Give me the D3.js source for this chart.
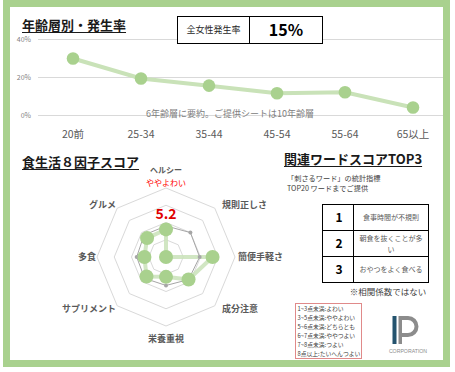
<!DOCTYPE html>
<head>
  <meta charset="utf-8">
  <script src="https://d3js.org/d3.v7.min.js"></script>
  <style>
    body { margin: 0; overflow: hidden; background: #fff; }
    svg { display: block; font-family: "Noto Sans CJK JP", "Noto Sans", sans-serif; }
  </style>
</head>
<body>
  <svg width="455" height="372"></svg>
  <script>
    // age chart
    const ageGroups = ['20前', '25-34', '35-44', '45-54', '55-64', '65以上'];
    const rates = [0.30, 0.195, 0.157, 0.117, 0.122, 0.042];
    const rateTicks = [0, 0.2, 0.4];

    // radar
    const factors = ['ヘルシー', '規則正しさ', '簡便手軽さ', '成分注意', '栄養重視', 'サプリメント', '多食', 'グルメ'];
    const scores = [5.2, 2.0, 7.4, 5.7, 4.3, 5.2, 4.5, 5.1];
    const avgScores = [5.6, 6.0, 5.9, 5.7, 5.3, 5.5, 5.4, 5.6];
    const scoreRings = [4, 6, 8, 10];

    // words table + legend
    const topRanks = ['1', '2', '3'];
    const topWords = [['食事時間が不規則'], ['朝食を抜くことが多', 'い'], ['おやつをよく食べる']];
    const legendLines = ['1~3点未満:よわい', '3~5点未満:ややよわい', '5~6点未満:どちらとも',
      '6~7点未満:ややつよい', '7~8点未満:つよい', '8点以上:たいへんつよい'];

    const green = '#a9d18e', paleGreen = '#c9e2b8', grid = '#d9d9d9';
    const svg = d3.select('svg');

    // frame
    svg.append('rect')
      .attr('x', 6.5).attr('y', 3.5).attr('width', 440).attr('height', 360)
      .attr('fill', '#fff').attr('stroke', green).attr('stroke-width', 7);

    const title = (x, y, txt) => {
      const t = svg.append('text').attr('x', x).attr('y', y)
        .attr('font-size', 13).attr('font-weight', 'bold').attr('fill', '#1a1a1a').text(txt);
      const w = t.node().getComputedTextLength();
      svg.append('line').attr('x1', x).attr('x2', x + w).attr('y1', y + 2.5).attr('y2', y + 2.5)
        .attr('stroke', '#1a1a1a').attr('stroke-width', 1.2);
    };

    // ---- age chart ----
    const x = d3.scaleBand().domain(ageGroups).range([39, 447]);
    const y = d3.scaleLinear().domain([0, 0.4]).range([115.5, 39.5]);
    const xc = d => x(d) + x.bandwidth() / 2;

    svg.append('g').selectAll('line').data(rateTicks).join('line')
      .attr('x1', 38).attr('x2', 443).attr('y1', d => y(d)).attr('y2', d => y(d))
      .attr('stroke', grid).attr('stroke-width', 1);
    svg.append('g').selectAll('text').data(rateTicks).join('text')
      .attr('x', 31).attr('y', d => y(d) + 2.5).attr('text-anchor', 'end')
      .attr('font-size', 7).attr('fill', '#7f7f7f').text(d3.format('.0%'));

    svg.append('text').attr('x', 230).attr('y', 116.5).attr('text-anchor', 'middle')
      .attr('font-size', 9).attr('fill', '#808080').text('6年齢層に要約。ご提供シートは10年齢層');

    svg.append('path').datum(rates)
      .attr('d', d3.line().x((d, i) => xc(ageGroups[i])).y(d => y(d)))
      .attr('fill', 'none').attr('stroke', paleGreen).attr('stroke-width', 4);
    svg.append('g').selectAll('circle').data(rates).join('circle')
      .attr('cx', (d, i) => xc(ageGroups[i])).attr('cy', d => y(d)).attr('r', 6.3).attr('fill', green);

    svg.append('g').selectAll('text').data(ageGroups).join('text')
      .attr('x', d => xc(d)).attr('y', 138).attr('text-anchor', 'middle')
      .attr('font-size', 10.5).attr('fill', '#595959').text(d => d);

    title(22, 30, '年齢層別・発生率');

    // rate box
    const box = svg.append('g');
    box.append('rect').attr('x', 177.5).attr('y', 16.5).attr('width', 145).attr('height', 27)
      .attr('fill', '#fff').attr('stroke', '#000').attr('stroke-width', 1);
    box.append('line').attr('x1', 249.5).attr('x2', 249.5).attr('y1', 16.5).attr('y2', 43.5)
      .attr('stroke', '#000');
    box.append('text').attr('x', 213.5).attr('y', 33).attr('text-anchor', 'middle')
      .attr('font-size', 9).attr('fill', '#262626').text('全女性発生率');
    box.append('text').attr('x', 286).attr('y', 36).attr('text-anchor', 'middle')
      .attr('font-size', 16).attr('font-weight', 'bold').attr('fill', '#000').text('15%');

    // ---- radar ----
    title(22, 167, '食生活８因子スコア');
    const cx = 166, cy = 257;
    const r = d3.scaleLinear().domain([2, 10]).range([0, 69]);
    const ang = i => i * 2 * Math.PI / factors.length;
    const px = (v, i) => cx + r(v) * Math.sin(ang(i));
    const py = (v, i) => cy - r(v) * Math.cos(ang(i));
    const radial = d3.lineRadial().angle((d, i) => ang(i)).radius(d => r(d)).curve(d3.curveLinearClosed);

    const rg = svg.append('g').attr('transform', `translate(${cx},${cy})`);
    rg.selectAll('path.ring').data(scoreRings).join('path').attr('class', 'ring')
      .attr('d', v => radial(factors.map(() => v)))
      .attr('fill', 'none').attr('stroke', grid).attr('stroke-width', 1);
    rg.append('path').attr('d', radial(avgScores))
      .attr('fill', 'none').attr('stroke', '#a6a6a6').attr('stroke-width', 1);
    svg.append('g').selectAll('circle').data(avgScores).join('circle')
      .attr('cx', px).attr('cy', py).attr('r', 2).attr('fill', '#a6a6a6');
    rg.append('path').attr('d', radial(scores))
      .attr('fill', 'none').attr('stroke', paleGreen).attr('stroke-width', 4).attr('opacity', 0.85);
    svg.append('g').selectAll('circle').data(scores).join('circle')
      .attr('cx', px).attr('cy', py).attr('r', 7).attr('fill', green);

    const labelPos = [
      [0, -87, 'middle'], [56, -52, 'start'], [72, 0, 'start'], [56, 52, 'start'],
      [0, 82, 'middle'], [-50, 52, 'end'], [-70, 0, 'end'], [-50, -52, 'end']
    ];
    svg.append('g').selectAll('text').data(factors).join('text')
      .attr('x', (d, i) => cx + labelPos[i][0]).attr('y', (d, i) => cy + labelPos[i][1] + 3)
      .attr('text-anchor', (d, i) => labelPos[i][2])
      .attr('font-size', (d, i) => i === 0 ? 8 : 9).attr('font-weight', 'bold')
      .attr('fill', '#595959').text(d => d);
    svg.append('text').attr('x', cx).attr('y', 185.5).attr('text-anchor', 'middle')
      .attr('font-size', 8).attr('fill', '#ff0000').text('ややよわい');
    svg.append('text').attr('x', cx).attr('y', py(scores[0], 0) - 10).attr('text-anchor', 'middle')
      .attr('font-size', 14).attr('font-weight', 'bold').attr('fill', '#e00000').text(d3.format('.1f')(scores[0]));

    // ---- related words ----
    title(284, 164, '関連ワードスコアTOP3');
    svg.append('text').attr('x', 287).attr('y', 180.5).attr('font-size', 7.2).attr('fill', '#404040')
      .text('「刺さるワード」の統計指標');
    svg.append('text').attr('x', 287).attr('y', 191).attr('font-size', 7.2).attr('fill', '#404040')
      .text('TOP20 ワードまでご提供');

    const rowY = d3.scaleBand().domain(topRanks).range([204.5, 282.5]);
    const tb = svg.append('g');
    tb.append('rect').attr('x', 322.5).attr('y', 204.5).attr('width', 106).attr('height', 78)
      .attr('fill', '#fff').attr('stroke', '#000');
    tb.append('line').attr('x1', 353.5).attr('x2', 353.5).attr('y1', 204.5).attr('y2', 282.5).attr('stroke', '#000');
    tb.selectAll('line.row').data(topRanks.slice(1)).join('line').attr('class', 'row')
      .attr('x1', 322.5).attr('x2', 428.5).attr('y1', d => rowY(d)).attr('y2', d => rowY(d)).attr('stroke', '#000');
    tb.selectAll('text.rank').data(topRanks).join('text').attr('class', 'rank')
      .attr('x', 339).attr('y', d => rowY(d) + rowY.bandwidth() / 2 + 4.5).attr('text-anchor', 'middle')
      .attr('font-size', 12).attr('font-weight', 'bold').attr('fill', '#000').text(d => d);
    topWords.forEach((lines, i) => {
      const mid = rowY(topRanks[i]) + rowY.bandwidth() / 2;
      lines.forEach((s, j) => {
        tb.append('text').attr('x', 391).attr('y', mid + 2.5 + (j - (lines.length - 1) / 2) * 11)
          .attr('text-anchor', 'middle').attr('font-size', 7).attr('fill', '#595959').text(s);
      });
    });
    svg.append('text').attr('x', 388).attr('y', 295).attr('text-anchor', 'middle')
      .attr('font-size', 8.5).attr('fill', '#404040').text('※相関係数ではない');

    // legend
    svg.append('rect').attr('x', 295.5).attr('y', 303.5).attr('width', 66).attr('height', 55)
      .attr('fill', '#fff').attr('stroke', '#e08a8a').attr('stroke-width', 1);
    svg.append('g').selectAll('text').data(legendLines).join('text')
      .attr('x', 297.5).attr('y', (d, i) => 310.5 + i * 9)
      .attr('font-size', 5.8).attr('fill', '#404040').text(d => d);

    // logo
    const logo = svg.append('g');
    logo.append('rect').attr('x', 392.5).attr('y', 316).attr('width', 4).attr('height', 28).attr('fill', '#24536e');
    logo.append('rect').attr('x', 398.5).attr('y', 316).attr('width', 3.5).attr('height', 28).attr('fill', '#8c8c8c');
    logo.append('path').attr('d', 'M401,318 H408 A8.5,8.5 0 0 1 408,335 H401')
      .attr('fill', 'none').attr('stroke', '#8c8c8c').attr('stroke-width', 4);
    logo.append('text').attr('x', 408).attr('y', 353).attr('text-anchor', 'middle')
      .attr('font-family', 'Liberation Sans, sans-serif').attr('font-size', 5.2).attr('fill', '#8c8c8c')
      .text('CORPORATION');
  </script>
</body>
